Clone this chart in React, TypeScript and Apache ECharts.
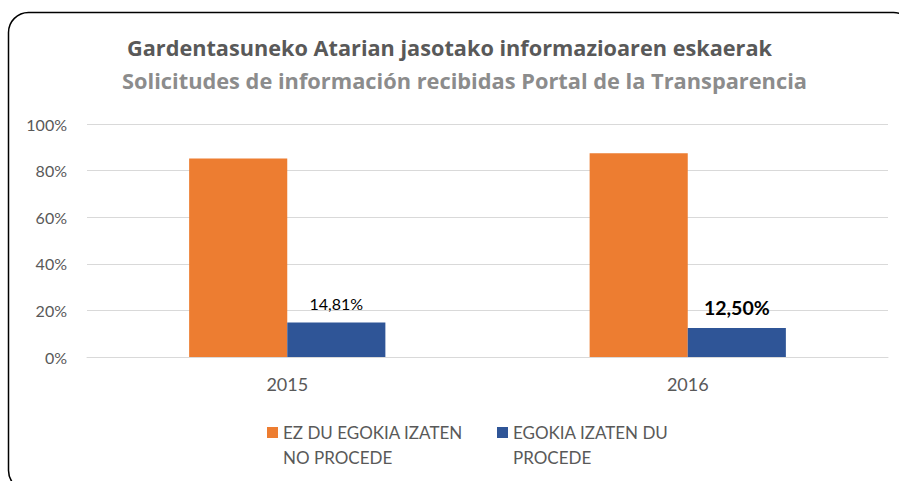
import React, { useEffect, useRef } from "react";
import * as echarts from "echarts";

const categories = ["2015", "2016"];
const seriesNames = ["EZ DU EGOKIA IZATEN\nNO PROCEDE", "EGOKIA IZATEN DU\nPROCEDE"];
const noProcede = [85.19, 87.5];
const procede = [14.81, 12.5];
const procedeLabels = ["14,81%", "12,50%"];
const yTicks = [0, 20, 40, 60, 80, 100];

const FONT = "Lato, 'Open Sans', sans-serif";
const TFONT = "'Open Sans', 'Noto Sans', sans-serif";
const TXT = "#595959";

export default function App() {
  const ref = useRef<HTMLDivElement>(null);
  useEffect(() => {
    if (!ref.current) return;
    const chart = echarts.init(ref.current, null, { renderer: "svg" });
    const legendBase = {
      top: 390,
      icon: "rect",
      itemWidth: 11,
      itemHeight: 11,
      itemGap: 5,
      formatter: (n: string) => " \n" + n,
      textStyle: { fontFamily: FONT, fontSize: 17, color: TXT, lineHeight: 25 },
    };
    chart.setOption({
      animation: false,
      textStyle: { fontFamily: FONT },
      title: [
        {
          left: "center",
          top: 27,
          text: "Gardentasuneko Atarian jasotako informazioaren eskaerak",
          textStyle: { fontFamily: TFONT, fontSize: 21.7, fontWeight: "bold", color: "#595959", lineHeight: 30 },
        },
        {
          left: 117,
          top: 60,
          text: "Solicitudes de información recibidas Portal de la Transparencia",
          textStyle: { fontFamily: TFONT, fontSize: 21.8, fontWeight: "bold", color: "#8c8c8c", lineHeight: 30 },
        },
      ],
      graphic: [
        {
          type: "rect",
          shape: { x: 8.5, y: 12.5, width: 905, height: 478, r: 20 },
          style: { fill: "none", stroke: "#000", lineWidth: 1.5 },
          silent: true,
        },
      ],
      legend: [
        { ...legendBase, left: 262, data: [seriesNames[0]] },
        { ...legendBase, left: 492, data: [seriesNames[1]] },
      ],
      grid: { left: 87, right: 11, top: 124, bottom: 124, containLabel: false },
      xAxis: {
        type: "category",
        data: categories,
        axisLine: { show: true, lineStyle: { color: "#d9d9d9", width: 1 } },
        axisTick: { show: false },
        axisLabel: { fontFamily: FONT, fontSize: 18, color: TXT, margin: 18 },
      },
      yAxis: {
        type: "value",
        min: 0,
        max: 100,
        interval: 20,
        axisLine: { show: false },
        axisTick: { show: false },
        splitLine: { lineStyle: { color: "#d9d9d9", width: 1 } },
        axisLabel: {
          fontFamily: FONT,
          fontSize: 16,
          color: TXT,
          margin: 20,
          formatter: (v: number) => (yTicks.includes(v) ? v + "%" : ""),
        },
      },
      series: [
        {
          name: seriesNames[0],
          type: "bar",
          data: noProcede,
          barGap: "0%",
          barCategoryGap: "51%",
          itemStyle: { color: "#ed7d31" },
        },
        {
          name: seriesNames[1],
          type: "bar",
          data: procede.map((v, i) => ({
            value: v,
            label: {
              show: true,
              position: "top",
              distance: i === 0 ? 11 : 10,
              formatter: procedeLabels[i],
              fontFamily: FONT,
              fontSize: i === 0 ? 16 : 19.5,
              fontWeight: i === 0 ? "normal" : "bold",
              color: "#000",
            },
          })),
          itemStyle: { color: "#2f5597" },
        },
      ],
    });
    return () => chart.dispose();
  }, []);
  return <div ref={ref} style={{ width: 899, height: 481, position: "absolute", left: 0, top: 0 }} />;
}
